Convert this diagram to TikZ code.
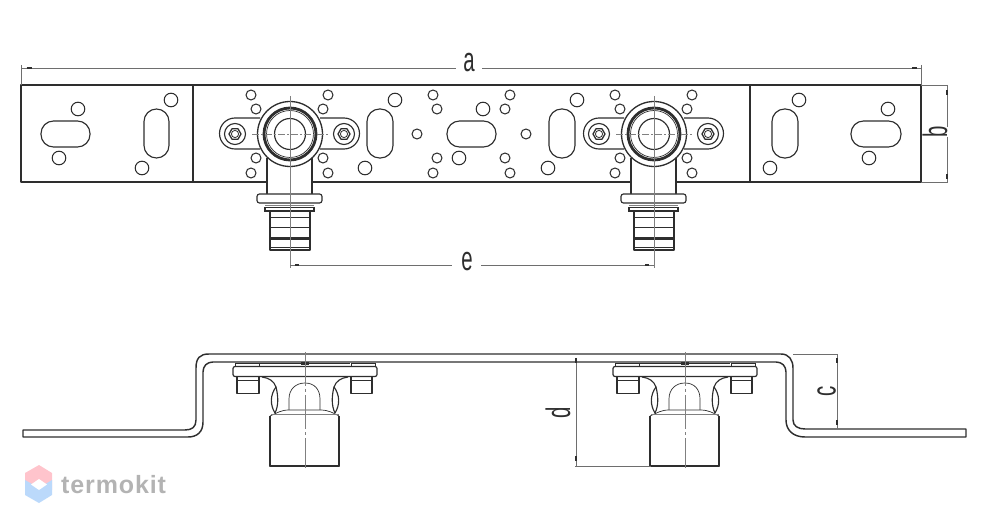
\documentclass[tikz,border=0pt]{standalone}
\usepackage{fontspec}
\setmainfont{Liberation Sans}
\newfontfamily\logofont[LetterSpace=3.5]{Liberation Sans}
\definecolor{ink}{HTML}{2E2E2E}
\definecolor{dimgray}{HTML}{6E6E6E}
\definecolor{axisgray}{HTML}{808080}
\definecolor{logopink}{HTML}{FFC4CC}
\definecolor{logoblue}{HTML}{BBD9FB}
\definecolor{logotext}{HTML}{B3B3B3}
\tikzset{
  part/.style={draw=ink,line width=1.15pt,line join=round},
  holeS/.style={part,line width=1.05pt},
  plateline/.style={draw=ink,line width=1.45pt,line join=round},
  dimline/.style={draw=dimgray,line width=0.65pt},
  tickmark/.style={draw=ink,line width=1.5pt},
  axis/.style={draw=axisgray,line width=0.7pt},
  dimtext/.style={inner sep=0pt,text=ink,font=\fontsize{34}{34}\selectfont},
  frontfitting/.pic={
    % stem
    \path[fill=white] (-23,20) rectangle (22,60);
    \draw[part] (-23,24) -- (-23,60);
    \draw[part] (22,24) -- (22,60);
    % lugs
    \draw[part,fill=white] (-30,-16) -- (-55,-16) arc[start angle=90,end angle=270,radius=15.5pt] -- (-30,15);
    \draw[part,fill=white] (30,-16) -- (54,-16) arc[start angle=90,end angle=-90,radius=15.5pt] -- (30,15);
    \foreach \lx in {-55,54}{
      \draw[part] (\lx,0) circle (10.5pt);
      \draw[part,line width=1.3pt] (\lx+6,0) -- (\lx+3,-5.2) -- (\lx-3,-5.2) -- (\lx-6,0) -- (\lx-3,5.2) -- (\lx+3,5.2) -- cycle;
      \draw[part,line width=0.8pt] (\lx,0) circle (3.6pt);
    }
    % body
    \draw[part,line width=1.3pt,fill=white] (0,0) circle (32.5pt);
    \draw[draw=ink,line width=2.8pt] (0,0) circle (26pt);
    \draw[part,line width=0.7pt] (0,0) circle (23.5pt);
    \draw[part] (0,0) circle (15.5pt);
    % flange and barb
    \draw[part,fill=white,rounded corners=2.5pt] (-33,60) rectangle (32,69);
    \draw[axis] (-25,71) -- (24,71);
    \draw[draw=ink,line width=1.5pt,fill=white] (-25,73.5) rectangle (24,77);
    \draw[part] (-20,77) -- (-20,116) -- (20,116) -- (20,77);
    \draw[part,line width=1.5pt] (-21,83.5) -- (20,83.5);
    \draw[part,line width=1.5pt] (-21,93.5) -- (20,93.5);
    \draw[draw=ink,line width=2.6pt] (-20,104.5) -- (20,104.5);
    \draw[part,line width=1.2pt] (-21,113.5) -- (20,113.5);
    % axes
    \draw[axis,dash pattern=on 7pt off 2pt on 2pt off 2pt] (-38,0) -- (38,0);
    \draw[axis] (0,-38) -- (0,134);
  },
  sidefitting/.pic={
    \draw[part,line width=0.9pt] (-70,0) -- (-70,3.5) (70,0) -- (70,3.5);
    \draw[part,line width=0.8pt] (-70,0) -- (-46,0) (-45,0.6) -- (45,0.6) (46,0) -- (70,0);
    \draw[part,line width=0.7pt] (-46,0) -- (-46,3.5) (46,0) -- (46,3.5);
    \fill[ink] (-4,-0.5) rectangle (4,2);
    \draw[part,line width=1.2pt,rounded corners=2pt] (-72,3.5) rectangle (72,13.5);
    \draw[part] (-68,13.5) rectangle (-46,30.5);
    \draw[part,line width=0.7pt] (-68,17.5) -- (-46,17.5);
    \draw[part] (46,13.5) rectangle (67,30.5);
    \draw[part,line width=0.7pt] (46,17.5) -- (67,17.5);
    \draw[part] (-43,14) .. controls (-36,15) and (-31,18) .. (-29,24)
      .. controls (-27,32) and (-26,42) .. (-30,50);
    \draw[part] (-29,24) .. controls (-35,32) and (-35,42) .. (-30,50);
    \draw[part] (43,14) .. controls (36,15) and (31,18) .. (29,24)
      .. controls (27,32) and (26,42) .. (30,50);
    \draw[part] (29,24) .. controls (35,32) and (35,42) .. (30,50);
    \draw[part,line width=0.7pt] (-16,47) -- (-16,36) .. controls (-16,26) and (-9,20) .. (0,20)
      .. controls (9,20) and (15,26) .. (15,36) -- (15,47);
    \draw[part,line width=0.7pt] (-35,53) .. controls (-28,50) and (-24,47) .. (-16,47) -- (15,47) .. controls (24,47) and (28,50) .. (34,53);
    \draw[axis,line width=0.5pt] (-34,51) -- (34,51);
    \draw[part] (-35,53) -- (-35,103) -- (34,103) -- (34,53);
    \draw[part,line width=1.6pt] (-35,98) -- (-35,103) -- (34,103) -- (34,98);
    \draw[axis,dash pattern=on 34pt off 3pt on 3pt off 3pt] (0,-11) -- (0,105);
  }
}
\begin{document}
\begin{tikzpicture}[x=1pt,y=-1pt]
\useasboundingbox (0,0) rectangle (1002,529);
% plate
\draw[plateline] (21,85) rectangle (921,182);
\draw[plateline] (193,85) -- (193,182);
\draw[plateline] (750,85) -- (750,182);
\draw[plateline,line width=1.7pt] (921,85) -- (921,182);
% left panel
\draw[part,rounded corners=12.5pt] (41,121) rectangle (90,147);
\draw[part,rounded corners=12.5pt] (144,109) rectangle (169,158);
\foreach \cx/\cy in {78/109,59/158,171/100,142/168}{\draw[holeS] (\cx,\cy) circle (6.8pt);}
% right panel
\draw[part,rounded corners=12.5pt] (772,109) rectangle (798,158);
\draw[part,rounded corners=12.5pt] (851,121) rectangle (901,147);
\foreach \cx/\cy in {799/100,770/168,888/109,869/158}{\draw[holeS] (\cx,\cy) circle (6.8pt);}
% middle panel slots
\draw[part,rounded corners=12.5pt] (367,109) rectangle (393,158);
\draw[part,rounded corners=12.5pt] (447,121) rectangle (496,147);
\draw[part,rounded corners=12.5pt] (549,109) rectangle (575,158);
% middle panel big holes
\foreach \cx/\cy in {395/100,365/168,483/109,459/158,577/100,548/168}{\draw[holeS] (\cx,\cy) circle (6.8pt);}
% middle panel small holes
\foreach \cx/\cy in {251/95,328/95,256/109,323/109,256/158,323/158,251/173,328/173,
  417/134,526/134,433/95,510/95,437/109,505/109,437/158,505/158,433/173,510/173,
  615/95,692/95,620/109,687/109,620/158,687/158,615/173,692/173}{\draw[holeS] (\cx,\cy) circle (5pt);}
% fittings, front view
\pic at (290,134) {frontfitting};
\pic at (654,134) {frontfitting};
% side view bracket
\draw[plateline] (23,430) -- (185,430) .. controls (192,430) and (196,427) .. (196,420)
  -- (196,368) .. controls (196,358) and (200,354) .. (209,354)
  -- (781,354) .. controls (789,354) and (793,360) .. (793,368)
  -- (793,420) .. controls (793,426) and (798,429) .. (805,429) -- (966,429) -- (966,437)
  -- (805,437) .. controls (793,437) and (786,430) .. (786,420)
  -- (786,372) .. controls (786,366) and (782,362) .. (776,362)
  -- (213,362) .. controls (207,362) and (203,366) .. (203,372)
  -- (203,422) .. controls (203,432) and (197,437) .. (188,437) -- (23,437) -- cycle;
% side fittings
\pic at (305,363) {sidefitting};
\pic at (685,363) {sidefitting};
% dimension a
\coordinate (aL) at (21.5,68);
\coordinate (aR) at (921,68);
\coordinate (aTextL) at (456,68);
\coordinate (aTextR) at (482,68);
\draw[dimline] (21.5,65) -- (21.5,85);
\draw[dimline] (921,65) -- (921,85);
\draw[dimline] (aL) -- (aTextL);
\draw[dimline] (aTextR) -- (aR);
\draw[tickmark] (aL) ++(5,0) -- ++(5,0);
\draw[tickmark] (aR) ++(-9,0) -- ++(5,0);
\node[dimtext,anchor=base] (labelA) at (469,72) {\scalebox{0.6}[1]{a}};
% dimension b
\coordinate (bT) at (947,85);
\coordinate (bB) at (947,182);
\draw[dimline] (921,85) -- (948,85);
\draw[dimline] (921,182) -- (948,182);
\draw[dimline] (bT) -- (947,127);
\draw[dimline] (947,137) -- (bB);
\draw[tickmark] (947,90) -- (947,95);
\draw[tickmark] (947,174) -- (947,179);
\node[dimtext,anchor=base,rotate=90] (labelB) at (947,132) {\scalebox{0.6}[1]{b}};
% dimension e
\coordinate (eL) at (290,265);
\coordinate (eR) at (654,265);
\draw[dimline] (eL) -- (452,265);
\draw[dimline] (481,265) -- (eR);
\draw[tickmark] (295,265) -- (299,265);
\draw[tickmark] (645,265) -- (649,265);
\node[dimtext,anchor=base] (labelE) at (467,271) {\scalebox{0.6}[1]{e}};
% dimension d
\coordinate (dT) at (576,362);
\coordinate (dB) at (576,466);
\draw[dimline] (dT) -- (dB);
\draw[dimline] (575,466) -- (651,466);
\draw[tickmark] (576,358) -- (576,363);
\draw[tickmark] (576,456) -- (576,461);
\node[dimtext,anchor=base,rotate=90] (labelD) at (570,413) {\scalebox{0.6}[1]{d}};
% dimension c
\coordinate (cT) at (837,354);
\coordinate (cB) at (837,429);
\draw[dimline] (793,354) -- (837,354);
\draw[dimline] (cT) -- (cB);
\draw[tickmark] (837,358) -- (837,363);
\draw[tickmark] (837,420) -- (837,425);
\node[dimtext,anchor=base,rotate=90] (labelC) at (835.5,391) {\scalebox{0.6}[1]{c}};
% logo
\fill[logopink] (39,465) -- (52,473) -- (52,490) -- (39,482) -- (25,490) -- (25,473) -- cycle;
\fill[logoblue] (39,488) -- (52,480) -- (52,495) -- (39,503) -- (25,495) -- (25,480) -- cycle;
\fill[white] (39,479) -- (47,484.5) -- (39,490) -- (31,484.5) -- cycle;
\node[inner sep=0pt,anchor=base west,text=logotext,font=\logofont\bfseries\fontsize{25}{25}\selectfont] (logotext) at (61,493) {termokit};
\end{tikzpicture}
\end{document}
